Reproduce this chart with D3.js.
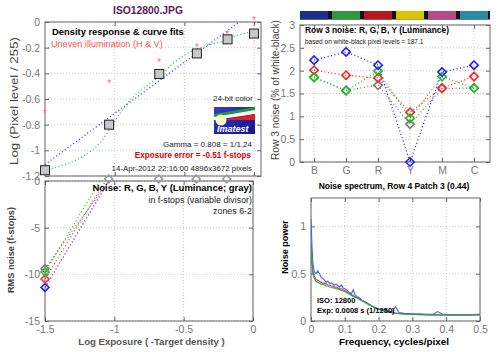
<!DOCTYPE html>
<html>
<head>
<meta charset="utf-8">
<script src="https://cdn.jsdelivr.net/npm/d3@7"></script>
<style>
  body { margin: 0; background: #fff; }
  svg { font-family: "Liberation Sans", Arial, sans-serif; }
</style>
</head>
<body>
<svg id="chart" width="500" height="352"></svg>
<script>
// ---------- data ----------

// density response (top left)
const zone_x = [-1.5, -1.04, -0.68, -0.41, -0.19, 0.0];
const density_measured = [-1.155, -0.80, -0.405, -0.245, -0.135, -0.09];
const density_uneven = [-0.71, -0.475, -0.31, -0.195, -0.094, 0.015];
const fit_x = [-1.5, -1.39, -1.28, -1.18, -1.10, -1.03, -0.96, -0.89, -0.78, -0.67, -0.57, -0.46, -0.35, -0.24, -0.13, -0.03, 0.05];
const fit_green = [-1.155, -1.122, -1.076, -1.013, -0.935, -0.826, -0.709, -0.608, -0.507, -0.413, -0.312, -0.234, -0.187, -0.156, -0.109, -0.078, -0.055];
const gamma_x = [-1.5, -0.08];
const gamma_line = [-1.11, 0.02];

// noise in f-stops (bottom left)
const noise_x = [-1.5, -1.04, -0.68, -0.41, -0.19];
const noise_gray = [-9.4, 0.0, 0.0, 0.0, 0.0];
const noise_r = [-10.5, 0.6];
const noise_g = [-9.75, 1.5];
const noise_b = [-11.4, 0.0];

// row 3 noise (top right)
const patches = ['B', 'G', 'R', 'Y', 'M', 'C'];
const patch_colors = ['#1e2e8c', '#2e9a3c', '#b8171e', '#dcc400', '#b84a8a', '#2a8aaa'];
const row3_b = [2.23, 2.41, 2.12, 0.0, 1.97, 2.12];
const row3_r = [2.01, 1.90, 1.84, 1.09, 1.62, 1.87];
const row3_g = [1.86, 1.56, 1.99, 0.96, 1.87, 1.62];
const row3_y = [1.85, 1.57, 1.68, 0.83, 1.61, 1.62];

// noise spectrum (bottom right)
const freq = [0, 0.003, 0.006, 0.01, 0.015, 0.02, 0.025, 0.03, 0.035, 0.04, 0.045, 0.05, 0.055, 0.06, 0.065, 0.07, 0.075, 0.08, 0.085, 0.09, 0.095, 0.1, 0.105, 0.11, 0.115, 0.12, 0.125, 0.13, 0.135, 0.14, 0.145, 0.15, 0.16, 0.17, 0.18, 0.19, 0.2, 0.21, 0.22, 0.23, 0.24, 0.25, 0.26, 0.27, 0.28, 0.29, 0.3, 0.32, 0.34, 0.36, 0.375, 0.39, 0.41, 0.43, 0.45, 0.47, 0.49, 0.5];
const spec_b = [1.08, 0.78, 0.6, 0.52, 0.5, 0.53, 0.5, 0.46, 0.45, 0.43, 0.41, 0.42, 0.4, 0.4, 0.39, 0.38, 0.39, 0.37, 0.36, 0.38, 0.35, 0.34, 0.33, 0.31, 0.3, 0.29, 0.33, 0.28, 0.26, 0.25, 0.24, 0.22, 0.2, 0.18, 0.16, 0.14, 0.13, 0.12, 0.11, 0.1, 0.1, 0.15, 0.09, 0.085, 0.08, 0.08, 0.075, 0.075, 0.07, 0.07, 0.1, 0.07, 0.065, 0.065, 0.068, 0.065, 0.07, 0.07];
const spec_r = [0.82, 0.62, 0.52, 0.47, 0.44, 0.43, 0.42, 0.41, 0.4, 0.4, 0.39, 0.38, 0.38, 0.37, 0.37, 0.36, 0.36, 0.35, 0.34, 0.34, 0.33, 0.32, 0.31, 0.3, 0.29, 0.28, 0.27, 0.26, 0.25, 0.24, 0.23, 0.22, 0.2, 0.18, 0.16, 0.14, 0.125, 0.115, 0.105, 0.095, 0.09, 0.085, 0.08, 0.078, 0.075, 0.072, 0.07, 0.068, 0.066, 0.065, 0.066, 0.064, 0.063, 0.064, 0.063, 0.064, 0.065, 0.065];
const spec_g = [0.78, 0.58, 0.49, 0.45, 0.42, 0.41, 0.4, 0.39, 0.39, 0.38, 0.37, 0.37, 0.36, 0.36, 0.35, 0.35, 0.34, 0.34, 0.33, 0.32, 0.32, 0.31, 0.3, 0.29, 0.28, 0.27, 0.26, 0.25, 0.245, 0.235, 0.225, 0.215, 0.195, 0.175, 0.155, 0.14, 0.125, 0.112, 0.1, 0.092, 0.087, 0.082, 0.078, 0.075, 0.073, 0.07, 0.068, 0.066, 0.065, 0.065, 0.066, 0.064, 0.064, 0.065, 0.064, 0.065, 0.066, 0.066];

// ---------- helpers ----------
const svg = d3.select('#chart');
const tick_color = '#777';
const frame_color = '#666';

function frame(g, x, y, ticksX, ticksY, fmtX, fmtY, showX) {
    const [x0, x1] = x.range();
    const [y1, y0] = y.range();
    // grid
    g.append('g').selectAll('line.gx').data(ticksX).enter().append('line')
        .attr('x1', d => x(d)).attr('x2', d => x(d)).attr('y1', y0).attr('y2', y1)
        .attr('stroke', '#bbb').attr('stroke-dasharray', '1,2').attr('stroke-width', 0.8);
    g.append('g').selectAll('line.gy').data(ticksY).enter().append('line')
        .attr('x1', x0).attr('x2', x1).attr('y1', d => y(d)).attr('y2', d => y(d))
        .attr('stroke', '#bbb').attr('stroke-dasharray', '1,2').attr('stroke-width', 0.8);
    // ticks inside, labels outside
    let ay = g.append('g').attr('transform', `translate(${x0},0)`)
        .call(d3.axisLeft(y).tickValues(ticksY).tickSize(-4).tickPadding(5).tickFormat(fmtY));
    ay.select('.domain').remove();
    ay.selectAll('line').attr('stroke', frame_color);
    ay.selectAll('text').attr('fill', tick_color).style('font-size', '10.5px');
    g.append('g').attr('transform', `translate(${x1},0)`)
        .call(d3.axisRight(y).tickValues(ticksY).tickSize(-4).tickFormat(''))
        .call(s => { s.select('.domain').remove(); s.selectAll('line').attr('stroke', frame_color); });
    let bx = g.append('g').attr('transform', `translate(0,${y1})`)
        .call(d3.axisBottom(x).tickValues(ticksX).tickSize(-4).tickPadding(5).tickFormat(showX ? fmtX : ''));
    bx.select('.domain').remove();
    bx.selectAll('line').attr('stroke', frame_color);
    bx.selectAll('text').attr('fill', tick_color).style('font-size', '10.5px');
    g.append('g').attr('transform', `translate(0,${y0})`)
        .call(d3.axisTop(x).tickValues(ticksX).tickSize(-4).tickFormat(''))
        .call(s => { s.select('.domain').remove(); s.selectAll('line').attr('stroke', frame_color); });
    g.append('rect').attr('x', x0).attr('y', y0).attr('width', x1 - x0).attr('height', y1 - y0)
        .attr('fill', 'none').attr('stroke', frame_color).attr('stroke-width', 1);
}

function clip(id, x, y) {
    svg.append('clipPath').attr('id', id).append('rect')
        .attr('x', x.range()[0]).attr('y', y.range()[1])
        .attr('width', x.range()[1] - x.range()[0]).attr('height', y.range()[0] - y.range()[1]);
}

function diamond(g, cx, cy, color, size) {
    g.append('path')
        .attr('d', d3.symbol().type(d3.symbolDiamond2).size(size)())
        .attr('transform', `translate(${cx},${cy})`)
        .attr('fill', 'none').attr('stroke', color).attr('stroke-width', 1.6);
}

function label(txt, x, y, opts = {}) {
    let t = svg.append('text').attr('x', x).attr('y', y).text(txt)
        .attr('text-anchor', opts.anchor || 'start')
        .attr('transform', opts.rotate ? `rotate(-90,${x},${y})` : null)
        .style('font-size', (opts.size || 10) + 'px')
        .style('font-weight', opts.bold ? 'bold' : 'normal')
        .style('font-style', opts.italic ? 'italic' : 'normal')
        .attr('fill', opts.color || '#000');
    if (opts.width) t.attr('textLength', opts.width).attr('lengthAdjust', 'spacingAndGlyphs');
    return t;
}

const dash = d => String(d).replace('−', '-');

// ---------- top left: density response ----------
const tl_x = d3.scaleLinear().domain([-1.5, 0.05]).range([45, 261]);
const tl_y = d3.scaleLinear().domain([-1.2, 0]).range([176, 22]);
let tl = svg.append('g');
frame(tl, tl_x, tl_y, [-1, -0.5, 0], [0, -0.2, -0.4, -0.6, -0.8, -1, -1.2], dash, dash, false);
clip('clip_tl', tl_x, tl_y);
let tlc = tl.append('g').attr('clip-path', 'url(#clip_tl)');

tlc.append('path').datum(gamma_x.map((d, i) => [d, gamma_line[i]]))
    .attr('d', d3.line().x(d => tl_x(d[0])).y(d => tl_y(d[1])))
    .attr('fill', 'none').attr('stroke', '#3030ff').attr('stroke-width', 1.3).attr('stroke-dasharray', '1,2.5');
tlc.append('path').datum(fit_x.map((d, i) => [d, fit_green[i]]))
    .attr('d', d3.line().curve(d3.curveMonotoneX).x(d => tl_x(d[0])).y(d => tl_y(d[1])))
    .attr('fill', 'none').attr('stroke', '#20d020').attr('stroke-width', 1.3).attr('stroke-dasharray', '1,2.5');

tl.selectAll('text.star').data(zone_x).enter().append('text')
    .attr('x', d => tl_x(d)).attr('y', (d, i) => tl_y(density_uneven[i]) + 4)
    .attr('text-anchor', 'middle').style('font-size', '10px').attr('fill', '#ff7070').text('*');
tl.selectAll('rect.sq').data(zone_x).enter().append('rect')
    .attr('x', d => tl_x(d) - 4.5).attr('y', (d, i) => tl_y(density_measured[i]) - 4.5)
    .attr('width', 9).attr('height', 9).attr('fill', '#c8c8c8').attr('stroke', '#222').attr('stroke-width', 1);

label('ISO12800.JPG', 148, 14, { anchor: 'middle', size: 10.3, bold: true, color: '#5a1a5a' });
label('Density response & curve fits', 52, 35, { size: 9.4, bold: true });
label('Uneven illumination (H & V)', 51, 47, { size: 9.1, color: '#ff5050' });
label('24-bit color', 213, 101, { size: 8, color: '#222' });

// Imatest logo
let logo = svg.append('g');
let grad = svg.append('defs').append('linearGradient').attr('id', 'lg').attr('x1', 0).attr('x2', 1).attr('y1', 0).attr('y2', 1);
grad.append('stop').attr('offset', 0).attr('stop-color', '#3a3ac8');
grad.append('stop').attr('offset', 1).attr('stop-color', '#14148a');
logo.append('rect').attr('x', 214).attr('y', 107).attr('width', 41).attr('height', 27).attr('fill', 'url(#lg)');
logo.append('path').attr('d', 'M214,114 L255,107 L255,110 L214,117 Z').attr('fill', '#1a9a3a');
logo.append('path').attr('d', 'M214,117 L255,110 L255,114 L214,120 Z').attr('fill', '#fff');
logo.append('path').attr('d', 'M222,120 L255,114 L255,120 Z').attr('fill', '#e02020');
logo.append('circle').attr('cx', 221).attr('cy', 120).attr('r', 5.5).attr('fill', '#ffffc0');
logo.append('text').attr('x', 217).attr('y', 132).text('Imatest')
    .style('font-size', '9px').style('font-weight', 'bold').style('font-style', 'italic').attr('fill', '#fff');

label('Gamma = 0.808 = 1/1.24', 252, 147, { anchor: 'end', size: 8, color: '#222' });
label('Exposure error = -0.51 f-stops', 251, 158, { anchor: 'end', size: 8.2, bold: true, color: '#e00000' });
label('14-Apr-2012 22:16:00   4896x3672 pixels', 252, 171, { anchor: 'end', size: 7.9, color: '#222' });
label('Log (Pixel level / 255)', 18, 101, { anchor: 'middle', rotate: true, size: 10.5, color: '#444', width: 128 });

// ---------- bottom left: noise in f-stops ----------
const bl_x = d3.scaleLinear().domain([-1.5, 0]).range([45, 253]);
const bl_y = d3.scaleLinear().domain([-15, 0]).range([321, 181]);
let bl = svg.append('g');
frame(bl, bl_x, bl_y, [-1.5, -1, -0.5, 0], [0, -5, -10, -15], dash, dash, true);
clip('clip_bl', bl_x, bl_y);
let blc = bl.append('g').attr('clip-path', 'url(#clip_bl)');
const noise_series = [[noise_gray, '#777'], [noise_b, '#2020ff'], [noise_r, '#ff3030'], [noise_g, '#20c020']];
noise_series.forEach(([vals, c]) => {
    blc.append('path').datum(vals.map((v, i) => [noise_x[i], v]))
        .attr('d', d3.line().x(d => bl_x(d[0])).y(d => bl_y(d[1])))
        .attr('fill', 'none').attr('stroke', c).attr('stroke-width', 1.3).attr('stroke-dasharray', '1,2.5');
});
noise_series.forEach(([vals, c]) => diamond(bl, bl_x(noise_x[0]), bl_y(vals[0]), c, 40));
noise_x.slice(1).forEach(d => diamond(bl, bl_x(d), bl_y(0) - 2, '#999', 40));

label('Noise: R, G, B, Y (Luminance; gray)', 252, 191, { anchor: 'end', size: 9.5, bold: true });
label('in f-stops (variable divisor)', 252, 203, { anchor: 'end', size: 8.9, color: '#222' });
label('zones 6-2', 252, 214, { anchor: 'end', size: 8.9, color: '#222' });
label('RMS noise (f-stops)', 14, 250, { anchor: 'middle', rotate: true, size: 9.4, bold: true, color: '#444', width: 86 });
label('Log Exposure ( -Target density )', 151.5, 345, { anchor: 'middle', size: 9.6, bold: true, color: '#555' });

// ---------- top right: row 3 noise ----------
const tr_x = d3.scaleLinear().domain([0.56, 6.5]).range([300, 490]);
const tr_y = d3.scaleLinear().domain([0, 3]).range([162, 25]);
let tr = svg.append('g');
frame(tr, tr_x, tr_y, [1, 2, 3, 4, 5, 6], [0, 0.5, 1, 1.5, 2, 2.5, 3], i => patches[i - 1], d3.format(''), true);

// color bar of patches
tr.append('rect').attr('x', 300).attr('y', 11).attr('width', 190).attr('height', 8.5).attr('fill', '#111');
tr.selectAll('rect.patch').data(patches).enter().append('rect')
    .attr('x', (d, i) => tr_x(i + 1) - 14).attr('y', 11)
    .attr('width', 28).attr('height', 8.5).attr('fill', (d, i) => patch_colors[i]);

const row3_series = [[row3_y, '#777'], [row3_r, '#ff2020'], [row3_g, '#20c020'], [row3_b, '#2020ff']];
row3_series.forEach(([vals, c]) => {
    tr.append('path').datum(vals)
        .attr('d', d3.line().x((d, i) => tr_x(i + 1)).y(d => tr_y(d)))
        .attr('fill', 'none').attr('stroke', c).attr('stroke-width', 1.3).attr('stroke-dasharray', '1,2.5');
});
row3_series.forEach(([vals, c]) => vals.forEach((v, i) => diamond(tr, tr_x(i + 1), tr_y(v), c, 45)));

label('Row 3 noise: R, G, B, Y (Luminance)', 305, 33, { size: 8.4, bold: true });
label('based on white-black pixel levels = 187.1', 305, 44, { size: 6.5, color: '#222' });
label('Row 3 noise (% of white-black)', 279, 90, { anchor: 'middle', rotate: true, size: 10.2, color: '#444', width: 140 });

// ---------- bottom right: noise spectrum ----------
const br_x = d3.scaleLinear().domain([0, 0.5]).range([311, 480]);
const br_y = d3.scaleLinear().domain([0, 1.3]).range([321, 198]);
let br = svg.append('g');
frame(br, br_x, br_y, [0, 0.1, 0.2, 0.3, 0.4, 0.5], [0, 0.5, 1], d3.format(''), d3.format(''), true);
clip('clip_br', br_x, br_y);
let brc = br.append('g').attr('clip-path', 'url(#clip_br)');
[[spec_r, '#e03060'], [spec_b, '#4060ff'], [spec_g, '#20b020']].forEach(([vals, c]) => {
    brc.append('path').datum(vals)
        .attr('d', d3.line().x((d, i) => br_x(freq[i])).y(d => br_y(d)))
        .attr('fill', 'none').attr('stroke', c).attr('stroke-width', 1.1);
});

label('Noise spectrum, Row 4 Patch 3 (0.44)', 394, 189, { anchor: 'middle', size: 8.5, bold: true });
label('Noise power', 288, 247, { anchor: 'middle', rotate: true, size: 9, bold: true });
label('Frequency, cycles/pixel', 394, 345, { anchor: 'middle', size: 9.9, bold: true });
label('ISO:   12800', 317, 303, { size: 7.5, bold: true });
label('Exp:   0.0008 s   (1/1250)', 317, 313, { size: 7.5, bold: true });
</script>
</body>
</html>
